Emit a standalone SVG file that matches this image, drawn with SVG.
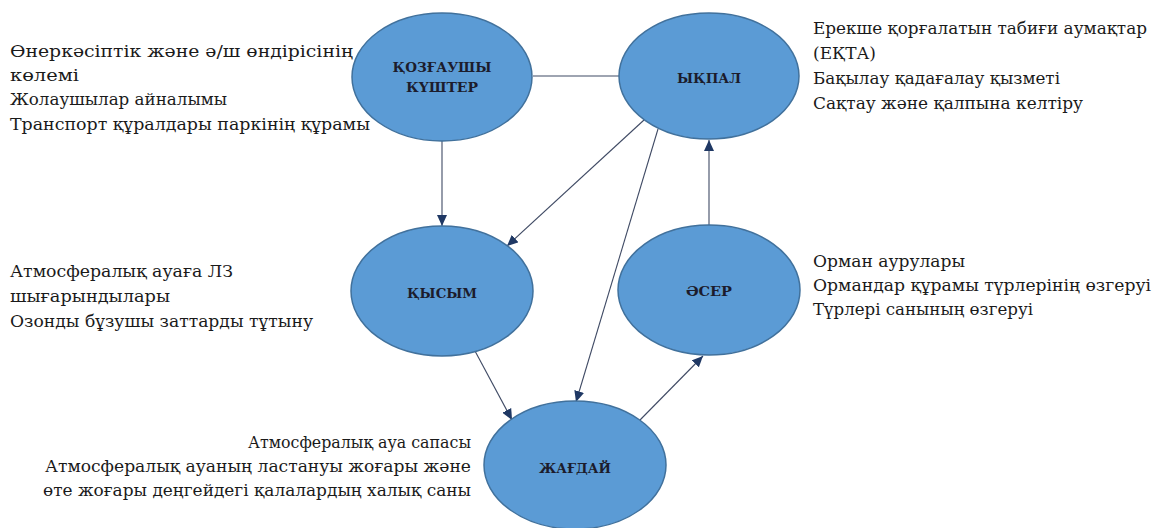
<svg xmlns="http://www.w3.org/2000/svg" width="1162" height="528" viewBox="0 0 1162 528">
<style>
.node ellipse{fill:#5b9bd5;stroke:#41719c;stroke-width:1.5}
.node text{font-family:"DejaVu Serif",serif;font-weight:bold;font-size:13px;fill:#1c1c2c;text-anchor:middle}
.lbl{font-family:"DejaVu Serif",serif;font-size:17px;fill:#1a1a1a}
.conn line{stroke:#3f4a64;stroke-width:1.1}
</style>
<defs>
<marker id="ah" markerUnits="userSpaceOnUse" markerWidth="11" markerHeight="10" refX="11" refY="5" orient="auto">
<path d="M0,0 L11,5 L0,10 Z" fill="#1f3864"/>
</marker>
</defs>
<rect width="1162" height="528" fill="#ffffff"/>
<g id="connectors" class="conn">
<line x1="533" y1="76" x2="619" y2="76"/>
<line x1="442" y1="141" x2="442" y2="226" marker-end="url(#ah)"/>
<line x1="644" y1="120" x2="507" y2="246" marker-end="url(#ah)"/>
<line x1="658" y1="129" x2="576" y2="402" marker-end="url(#ah)"/>
<line x1="709" y1="225" x2="709" y2="140" marker-end="url(#ah)"/>
<line x1="475" y1="351" x2="512" y2="420" marker-end="url(#ah)"/>
<line x1="640" y1="420" x2="703" y2="356" marker-end="url(#ah)"/>
</g>
<g id="node-kozgaushy" class="node">
<ellipse cx="442" cy="77" rx="90" ry="64"/>
<text x="442" y="72" textLength="99" lengthAdjust="spacingAndGlyphs">ҚОЗҒАУШЫ</text>
<text x="442" y="92" textLength="72" lengthAdjust="spacingAndGlyphs">КҮШТЕР</text>
</g>
<g id="node-ykpal" class="node">
<ellipse cx="709" cy="76" rx="90" ry="63"/>
<text x="709" y="83" textLength="64" lengthAdjust="spacingAndGlyphs">ЫҚПАЛ</text>
</g>
<g id="node-kysym" class="node">
<ellipse cx="442" cy="291" rx="91" ry="65"/>
<text x="442" y="298" textLength="70" lengthAdjust="spacingAndGlyphs">ҚЫСЫМ</text>
</g>
<g id="node-aser" class="node">
<ellipse cx="709" cy="290" rx="91" ry="65"/>
<text x="709" y="296" textLength="46" lengthAdjust="spacingAndGlyphs">ӘСЕР</text>
</g>
<g id="node-zhagdai" class="node">
<ellipse cx="575" cy="465" rx="91" ry="64"/>
<text x="575" y="473" textLength="72" lengthAdjust="spacingAndGlyphs">ЖАҒДАЙ</text>
</g>
<g id="labels">
<text class="lbl" x="10" y="57" textLength="343" lengthAdjust="spacingAndGlyphs">Өнеркәсіптік және ә/ш өндірісінің</text>
<text class="lbl" x="10" y="81" textLength="69" lengthAdjust="spacingAndGlyphs">көлемі</text>
<text class="lbl" x="10" y="105" textLength="217" lengthAdjust="spacingAndGlyphs">Жолаушылар айналымы</text>
<text class="lbl" x="10" y="130" textLength="360" lengthAdjust="spacingAndGlyphs">Транспорт құралдары паркінің құрамы</text>
<text class="lbl" x="813" y="34" textLength="334" lengthAdjust="spacingAndGlyphs">Ерекше қорғалатын табиғи аумақтар</text>
<text class="lbl" x="813" y="59" textLength="63" lengthAdjust="spacingAndGlyphs">(ЕҚТА)</text>
<text class="lbl" x="813" y="84" textLength="247" lengthAdjust="spacingAndGlyphs">Бақылау қадағалау қызметі</text>
<text class="lbl" x="813" y="109" textLength="270" lengthAdjust="spacingAndGlyphs">Сақтау және қалпына келтіру</text>
<text class="lbl" x="10" y="277" textLength="223" lengthAdjust="spacingAndGlyphs">Атмосфералық ауаға ЛЗ</text>
<text class="lbl" x="10" y="302" textLength="160" lengthAdjust="spacingAndGlyphs">шығарындылары</text>
<text class="lbl" x="10" y="327" textLength="303" lengthAdjust="spacingAndGlyphs">Озонды бұзушы заттарды тұтыну</text>
<text class="lbl" x="813" y="267" textLength="152" lengthAdjust="spacingAndGlyphs">Орман аурулары</text>
<text class="lbl" x="813" y="291" textLength="338" lengthAdjust="spacingAndGlyphs">Ормандар құрамы түрлерінің өзгеруі</text>
<text class="lbl" x="813" y="315" textLength="220" lengthAdjust="spacingAndGlyphs">Түрлері санының өзгеруі</text>
<text class="lbl" x="248" y="448" textLength="223" lengthAdjust="spacingAndGlyphs">Атмосфералық ауа сапасы</text>
<text class="lbl" x="45" y="472" textLength="426" lengthAdjust="spacingAndGlyphs">Атмосфералық ауаның ластануы жоғары және</text>
<text class="lbl" x="43" y="496" textLength="428" lengthAdjust="spacingAndGlyphs">өте жоғары деңгейдегі қалалардың халық саны</text>
</g>
</svg>
